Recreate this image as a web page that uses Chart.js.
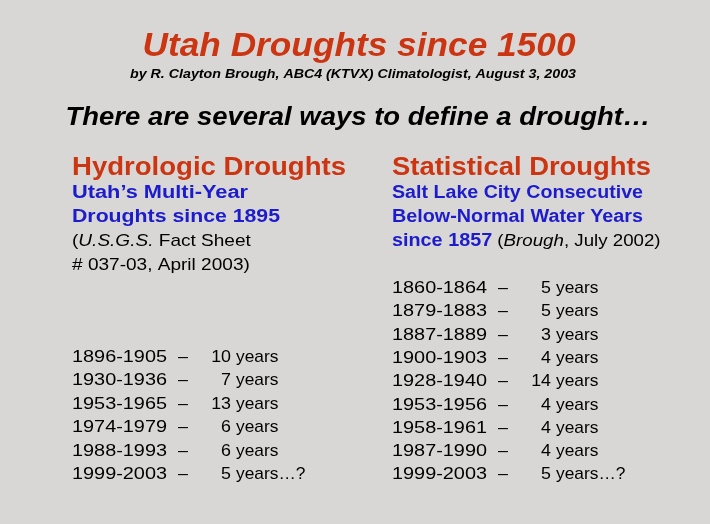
<!DOCTYPE html>
<html><head><meta charset="utf-8">
<script src="https://cdn.jsdelivr.net/npm/chart.js@4"></script>
<style>html,body{margin:0;padding:0;background:#d9d7d5;}#c{display:block;}</style>
</head><body>
<div style="width:710px;height:524px"><canvas id="c"></canvas></div>
<script>
const hydroPeriods = ["1896-1905","1930-1936","1953-1965","1974-1979","1988-1993","1999-2003"];
const hydroYears = [10,7,13,6,6,5];
const statPeriods = ["1860-1864","1879-1883","1887-1889","1900-1903","1928-1940","1953-1956","1958-1961","1987-1990","1999-2003"];
const statYears = [5,5,3,4,14,4,4,4,5];
const F = '"Liberation Sans", Arial, sans-serif';
const RED = '#cc3512', BLUE = '#1c1ccc';
const SX = 1.12;

function txt(ctx, s, x, y, font, color, align, sx, w){
  ctx.save(); ctx.font = font; ctx.fillStyle = color; ctx.textAlign = 'left';
  const mw = ctx.measureText(s).width;
  const k = w ? w/mw : (sx || SX);
  let left = x;
  if(align==='center') left = x - mw*k/2;
  else if(align==='right') left = x - mw*k;
  ctx.translate(left, y); ctx.scale(k,1); ctx.fillText(s,0,0);
  ctx.restore();
  return left + mw*k;
}
function list(ctx, periods, years, x0, y0, dy){
  periods.forEach((p,i)=>{
    const y = y0 + i*dy, f = '17px '+F;
    txt(ctx,p,x0,y,f,'#000','left',0,95);
    txt(ctx,'–',x0+106,y,f,'#000','left',1.05);
    txt(ctx,String(years[i]),x0+159,y,f,'#000','right',1.05);
    txt(ctx,i===periods.length-1?'years…?':'years',x0+164,y,f,'#000','left',1.02);
  });
}
const slide = {
  id:'slide',
  afterDraw(chart){
    const ctx = chart.ctx; ctx.save(); ctx.textBaseline='alphabetic';
    txt(ctx,'Utah Droughts since 1500',359,56,'italic bold 33px '+F,RED,'center',0,433);
    txt(ctx,'by R. Clayton Brough, ABC4 (KTVX) Climatologist, August 3, 2003',353,78,'italic bold 13px '+F,'#000','center',0,446);
    txt(ctx,'There are several ways to define a drought…',358,125,'italic bold 26px '+F,'#000','center',0,585);
    txt(ctx,'Hydrologic Droughts',72,175,'bold 25px '+F,RED,'left',0,274);
    txt(ctx,'Utah’s Multi-Year',72,198,'bold 18px '+F,BLUE,'left',0,176);
    txt(ctx,'Droughts since 1895',72,222,'bold 18px '+F,BLUE,'left',0,208);
    let x = txt(ctx,'(',72,246,'17px '+F,'#000');
    x = txt(ctx,'U.S.G.S.',x,246,'italic 17px '+F,'#000');
    txt(ctx,' Fact Sheet',x,246,'17px '+F,'#000');
    txt(ctx,'# 037-03, April 2003)',72,270,'17px '+F,'#000');
    list(ctx,hydroPeriods,hydroYears,72,362,23.4);
    txt(ctx,'Statistical Droughts',392,175,'bold 25px '+F,RED,'left',0,259);
    txt(ctx,'Salt Lake City Consecutive',392,198,'bold 18px '+F,BLUE,'left',0,251);
    txt(ctx,'Below-Normal Water Years',392,222,'bold 18px '+F,BLUE,'left',0,251);
    x = txt(ctx,'since 1857',392,246,'bold 18px '+F,BLUE,'left',1.1);
    x = txt(ctx,' (',x,246,'17px '+F,'#000','left',1.1);
    x = txt(ctx,'Brough',x,246,'italic 17px '+F,'#000','left',1.1);
    txt(ctx,', July 2002)',x,246,'17px '+F,'#000','left',1.1);
    list(ctx,statPeriods,statYears,392,293,23.3);
    ctx.restore();
  }
};
new Chart(document.getElementById('c'),{
  type:'bar',
  data:{labels:statPeriods,datasets:[{data:statYears,backgroundColor:'rgba(0,0,0,0)',borderWidth:0}]},
  options:{responsive:true,maintainAspectRatio:false,animation:false,
    plugins:{legend:{display:false},tooltip:{enabled:false}},
    scales:{x:{display:false},y:{display:false}}},
  plugins:[slide]
});
</script></body></html>
